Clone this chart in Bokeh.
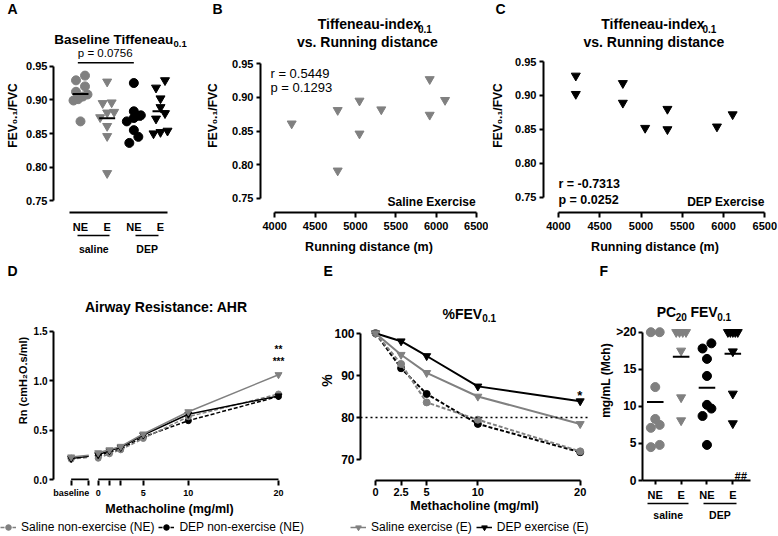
import math
from bokeh.plotting import figure
from bokeh.models import (Range1d, Label, FixedTicker, NumeralTickFormatter, LinearAxis,
                          Legend, LegendItem, Span)
from bokeh.layouts import row, column
from bokeh.embed import file_html
from bokeh.resources import INLINE

# ======================= data =======================
# Panel A - baseline Tiffeneau index (FEV0.1/FVC)
a_categories = ["NE", "E", "NE", "E"]
a_treatments = ["saline", "DEP"]
a_saline_ne = [0.936, 0.929, 0.920, 0.912, 0.908, 0.905, 0.901, 0.899, 0.868]
a_saline_e = [0.861, 0.881, 0.791, 0.895, 0.846, 0.882, 0.927, 0.874, 0.896]
a_dep_ne = [0.925, 0.883, 0.877, 0.873, 0.868, 0.855, 0.845, 0.836]
a_dep_e = [0.929, 0.902, 0.918, 0.889, 0.852, 0.880, 0.850, 0.854, 0.872]
a_y_ticks = [0.75, 0.80, 0.85, 0.90, 0.95]
a_compare = (1, 3)
a_p_text = "p = 0.0756"

# Panels B and C - Tiffeneau index vs running distance
b_distance = [4210, 4780, 4780, 5050, 5050, 5320, 5920, 5920, 6110]
b_tiff = [0.861, 0.881, 0.791, 0.895, 0.846, 0.882, 0.927, 0.874, 0.896]
b_stats = ["r = 0.5449", "p = 0.1293"]
c_distance = [4210, 4210, 4780, 4780, 5050, 5320, 5320, 5920, 6110]
c_tiff = [0.929, 0.902, 0.918, 0.889, 0.852, 0.880, 0.850, 0.854, 0.872]
c_stats = ["r = -0.7313", "p = 0.0252"]
dist_ticks = [4000, 4500, 5000, 5500, 6000, 6500]

# Panel D - airway resistance
d_baseline_pos = [-3, -1.05]
d_doses = [0, 1.25, 2.5, 5, 10, 20]
d_labelled = [0, 5, 10, 20]
d_y_ticks = [0, 0.5, 1.0, 1.5]
d_saline_ne_base = [0.205, 0.225]
d_dep_ne_base = [0.215, 0.232]
d_saline_e_base = [0.228, 0.245]
d_dep_e_base = [0.212, 0.235]
d_saline_ne = [0.215, 0.26, 0.30, 0.415, 0.635, 0.865]
d_dep_ne = [0.24, 0.275, 0.31, 0.43, 0.595, 0.84]
d_saline_e = [0.27, 0.30, 0.335, 0.46, 0.685, 1.06]
d_dep_e = [0.25, 0.29, 0.325, 0.45, 0.66, 0.845]
d_signif = ["**", "***"]

# Panel E - %FEV0.1
e_doses = [0, 2.5, 5, 10, 20]
e_y_ticks = [70, 80, 90, 100]
e_threshold = 80
e_saline_ne = [100, 92.7, 83.6, 79.5, 72.0]
e_dep_ne = [100, 91.7, 85.6, 78.5, 71.8]
e_saline_e = [100, 94.9, 90.6, 85.0, 78.5]
e_dep_e = [100, 98.1, 94.6, 87.4, 83.9]
e_signif = "*"

# Panel F - PC20 FEV0.1
f_y_ticks = [0, 5, 10, 15, 20]
f_top_label = ">20"
f_saline_ne = [20, 20, 12.6, 8.3, 7.1, 7.5, 4.5, 4.8]
f_saline_e = [20, 20, 20, 20, 17.5, 11.2, 8.1]
f_dep_ne = [18.5, 17.8, 16.4, 14.1, 10.2, 9.7, 8.7, 4.8]
f_dep_e = [20, 20, 20, 20, 20, 17.4, 11.7, 7.7]
f_signif = "##"

series_names = ["Saline non-exercise (NE)", "DEP non-exercise (NE)",
                "Saline exercise (E)", "DEP exercise (E)"]

# ======================= styles =======================
FONT = "Liberation Sans"
GRAY = "#808080"
BLACK = "#000000"
# style per series, in the order of series_names
S_COLORS = [GRAY, BLACK, GRAY, BLACK]
S_DASH = ["4 2", "4 2", "solid", "solid"]
S_MARK = ["circle", "circle", "inverted_triangle", "inverted_triangle"]
# column order of panels A and F (saline NE, saline E, DEP NE, DEP E) -> series index
COL_SERIES = [0, 2, 1, 3]
NAN = float("nan")

BOLD_W = {c: 556 for c in "0123456789#$"}
BOLD_W.update({" ": 278, ".": 278, ",": 278, "-": 333, "/": 278, "(": 333, ")": 333,
               ":": 333, "%": 889, "=": 584, ">": 584, "*": 389})
BOLD_W.update(dict(zip("ABCDEFGHIJKLMNOPQRSTUVWXYZ",
                       [722, 722, 722, 722, 667, 611, 778, 722, 278, 556, 722, 611, 833,
                        722, 778, 667, 778, 722, 667, 611, 722, 667, 944, 667, 667, 611])))
BOLD_W.update(dict(zip("abcdefghijklmnopqrstuvwxyz",
                       [556, 611, 556, 611, 556, 333, 611, 611, 278, 278, 556, 278, 889,
                        611, 611, 611, 611, 389, 556, 333, 611, 556, 778, 556, 556, 500])))


def tw(s, size):
    return sum(BOLD_W.get(ch, 556) for ch in s) / 1000.0 * size


class Panel:
    """Figure whose plot frame sits at given page pixels; xcal/ycal map values to pixels."""

    def __init__(self, box, frame, xcal, ycal, letter, letter_x):
        bx, by, bw, bh = box
        fl, ft, fr, fb = frame
        self.kx = (xcal[3] - xcal[1]) / (xcal[2] - xcal[0])
        self.xv0, self.xp0 = xcal[0], xcal[1]
        self.ky = (ycal[3] - ycal[1]) / (ycal[2] - ycal[0])
        self.yv0, self.yp0 = ycal[0], ycal[1]
        p = figure(width=bw, height=bh, title=letter,
                   x_range=Range1d(self.xv(fl), self.xv(fr)),
                   y_range=Range1d(self.yv(fb), self.yv(ft)),
                   output_backend="svg", toolbar_location=None,
                   min_border_left=int(round(fl - bx)), min_border_right=int(round(bx + bw - fr)),
                   min_border_top=int(round(ft - by)), min_border_bottom=int(round(by + bh - fb)))
        p.outline_line_color = None
        p.grid.visible = False
        p.background_fill_color = "white"
        p.border_fill_color = "white"
        t = p.title
        t.align = "left"
        t.offset = letter_x - fl
        t.standoff = 0
        t.vertical_align = "top"
        t.text_font = FONT
        t.text_font_size = "14px"
        t.text_font_style = "bold"
        t.text_color = BLACK
        self.p = p

    def xv(self, px):
        return self.xv0 + (px - self.xp0) / self.kx

    def yv(self, py):
        return self.yv0 + (py - self.yp0) / self.ky


def text(P, px, py, s, size, bold=True, align="center", baseline="middle", angle=0.0,
         italic=False, color=BLACK):
    style = ("bold " if bold else "") + ("italic" if italic else "")
    style = style.strip() or "normal"
    P.p.add_layout(Label(x=P.xv(px), y=P.yv(py), text=s, text_font=FONT,
                         text_font_size=f"{size}px", text_font_style=style,
                         text_align=align, text_baseline=baseline, angle=angle,
                         text_color=color))


def rich(P, cx, cy, parts):
    """Centred text made of pieces (text, size, drop) - used for subscripts."""
    total = sum(tw(t, s) for t, s, d in parts)
    adv = 0.0
    for t, s, d in parts:
        stripped = t.lstrip(" ")
        adv += tw(t[:len(t) - len(stripped)], s)
        text(P, cx - total / 2 + adv, cy + d, stripped, s, align="left", baseline="middle")
        adv += tw(stripped, s)


def axstyle(ax, size, tick_out=4, standoff=3):
    ax.axis_line_color = BLACK
    ax.axis_line_width = 2
    ax.major_tick_line_color = BLACK
    ax.major_tick_line_width = 2
    ax.major_tick_out = tick_out
    ax.major_tick_in = 0
    ax.minor_tick_line_color = None
    ax.minor_tick_out = 0
    ax.minor_tick_in = 0
    ax.major_label_text_font = FONT
    ax.major_label_text_font_style = "bold"
    ax.major_label_text_font_size = f"{size}px"
    ax.major_label_text_color = BLACK
    ax.major_label_standoff = standoff


def axlabel(ax, s, size, standoff):
    ax.axis_label = s
    ax.axis_label_text_font = FONT
    ax.axis_label_text_font_size = f"{size}px"
    ax.axis_label_text_font_style = "bold"
    ax.axis_label_text_color = BLACK
    ax.axis_label_standoff = standoff


def group_axes(P, positions, names, size, pad, standoff):
    centers = [(positions[2 * g] + positions[2 * g + 1]) / 2 for g in range(len(names))]
    for c, name in zip(centers, names):
        half = (tw(name, size) + pad) / 2 / P.kx
        ax = LinearAxis(bounds=(c - half, c + half), ticker=FixedTicker(ticks=[]))
        axstyle(ax, size, 0, 0)
        ax.axis_line_width = 1.5
        ax.major_tick_line_color = None
        ax.axis_label_standoff = 0
        P.p.add_layout(ax, "below")
    ax = LinearAxis(ticker=FixedTicker(ticks=centers),
                    major_label_overrides=dict(zip(centers, names)))
    axstyle(ax, size, 0, standoff)
    ax.axis_line_color = None
    ax.major_tick_line_color = None
    P.p.add_layout(ax, "below")


def row_offsets(vals, kx, ky, size, maxw):
    order = sorted(range(len(vals)), key=lambda i: vals[i])
    offs = [0.0] * len(vals)
    rows = []
    for i in order:
        y = vals[i] * ky
        if rows and y - rows[-1][0] < 0.9 * size:
            rows[-1][1].append(i)
        else:
            rows.append([y, [i]])
    for _, idx in rows:
        k = len(idx)
        if k > 1:
            sp = min(size, maxw / (k - 1))
            for j, i in enumerate(idx):
                offs[i] = (j - (k - 1) / 2) * sp / kx
    return offs


def fmt(v):
    return f"{v:g}"


FEV_LABEL = "FEV\u2080.\u2081/FVC"

# ======================= Panel A =======================
A = Panel((0, 0, 203, 262), (53, 18, 203, 212), (1, 80, 4, 160), (0.95, 65.7, 0.75, 200.3),
          "A", 7)
pa = A.p
positions = list(range(1, len(a_categories) + 1))
pa.yaxis.ticker = FixedTicker(ticks=a_y_ticks)
pa.yaxis.formatter = NumeralTickFormatter(format="0.00")
pa.yaxis.bounds = (a_y_ticks[0], a_y_ticks[-1])
axstyle(pa.yaxis, 11, 4, 2)
axlabel(pa.yaxis, FEV_LABEL, 12, 3)
pa.xaxis.ticker = FixedTicker(ticks=positions)
pa.xaxis.major_label_overrides = dict(zip(positions, a_categories))
axstyle(pa.xaxis, 11, 0, 8)
pa.xaxis.major_tick_line_color = None
pa.xaxis.bounds = (A.xv(69), A.xv(167))
group_axes(A, positions, a_treatments, 10.5, 2, 7)

a_groups = [a_saline_ne, a_saline_e, a_dep_ne, a_dep_e]
for i, vals in enumerate(a_groups):
    pos = positions[i]
    s = COL_SERIES[i]
    size = 9
    offs = row_offsets(vals, A.kx, abs(A.ky), size, 14)
    pa.scatter(x=[pos + o for o in offs], y=vals, marker=S_MARK[s], size=size,
               fill_color=S_COLORS[s], line_color=S_COLORS[s])
    m = sum(vals) / len(vals)
    pa.segment(x0=[pos - 0.3], x1=[pos + 0.3], y0=[m], y1=[m], line_width=2, line_color=BLACK)

ybr = A.yv(62.3)
pa.segment(x0=[a_compare[0] - 0.1], x1=[a_compare[1]], y0=[ybr], y1=[ybr],
           line_width=1.5, line_color=BLACK)
text(A, 104.7, 52, a_p_text, 11.5, bold=False)
rich(A, 120, 39, [("Baseline Tiffeneau", 13.5, 0), ("0.1", 9.5, 4.5)])

# ======================= Panel B =======================
B = Panel((203, 0, 285, 262), (253, 18, 477, 212), (4000, 267.7, 6500, 476.0),
          (0.95, 63.3, 0.75, 197.7), "B", 205)
pb = B.p
pb.yaxis.ticker = FixedTicker(ticks=a_y_ticks)
pb.yaxis.formatter = NumeralTickFormatter(format="0.00")
pb.yaxis.bounds = (a_y_ticks[0], a_y_ticks[-1])
axstyle(pb.yaxis, 11, 4, 3)
axlabel(pb.yaxis, FEV_LABEL, 12, 9)
pb.xaxis.ticker = FixedTicker(ticks=dist_ticks)
pb.xaxis.bounds = (dist_ticks[0], dist_ticks[-1])
axstyle(pb.xaxis, 11, 5, 4)
axlabel(pb.xaxis, "Running distance (m)", 12.5, 7)
pb.scatter(x=b_distance, y=b_tiff, marker="inverted_triangle", size=9,
           fill_color=GRAY, line_color=GRAY)
rich(B, 370.8, 23.5, [("Tiffeneau-index", 14, 0), ("0.1", 10, 4.5)])
text(B, 363.3, 41.5, "vs. Running distance", 14)
text(B, 263.3, 73.3, b_stats[0], 13, bold=False, align="left")
text(B, 263.3, 87.3, b_stats[1], 13, bold=False, align="left")
text(B, 475, 201.7, "Saline Exercise", 12, align="right")

# ======================= Panel C =======================
C = Panel((488, 0, 290, 262), (538, 18, 766, 212), (4000, 553.3, 6500, 764.3),
          (0.95, 61.0, 0.75, 196.7), "C", 490)
pc = C.p
pc.yaxis.ticker = FixedTicker(ticks=a_y_ticks)
pc.yaxis.formatter = NumeralTickFormatter(format="0.00")
pc.yaxis.bounds = (a_y_ticks[0], a_y_ticks[-1])
axstyle(pc.yaxis, 11, 4, 3)
axlabel(pc.yaxis, FEV_LABEL, 12, 7)
pc.xaxis.ticker = FixedTicker(ticks=dist_ticks)
pc.xaxis.bounds = (dist_ticks[0], dist_ticks[-1])
axstyle(pc.xaxis, 11, 5, 4)
axlabel(pc.xaxis, "Running distance (m)", 12.5, 7)
pc.scatter(x=c_distance, y=c_tiff, marker="inverted_triangle", size=9,
           fill_color=BLACK, line_color=BLACK)
rich(C, 655.8, 23.5, [("Tiffeneau-index", 14, 0), ("0.1", 10, 4.5)])
text(C, 650.8, 41.5, "vs. Running distance", 14)
text(C, 553.3, 183.3, c_stats[0], 12.5, align="left")
text(C, 553.3, 199, c_stats[1], 12.5, align="left")
text(C, 764, 201, "DEP Exercise", 12, align="right")

# ======================= Panel D =======================
D = Panel((0, 262, 300, 256), (53, 280, 285, 480), (0, 97.7, 20, 278.0), (1.5, 330.7, 0, 479),
          "D", 7)
pd_ = D.p
pd_.yaxis.ticker = FixedTicker(ticks=d_y_ticks)
pd_.yaxis.formatter = NumeralTickFormatter(format="0.0")
pd_.yaxis.bounds = (d_y_ticks[0], d_y_ticks[-1])
axstyle(pd_.yaxis, 10, 4, 2)
axlabel(pd_.yaxis, "Rn (cmH\u2082O.s/ml)", 11, 2)
d_ticks = d_baseline_pos + d_doses
d_over = {d_baseline_pos[0]: "baseline", d_baseline_pos[1]: ""}
d_over.update({v: (fmt(v) if v in d_labelled else "") for v in d_doses})
pd_.xaxis.ticker = FixedTicker(ticks=d_ticks)
pd_.xaxis.major_label_overrides = d_over
axstyle(pd_.xaxis, 9, 5, 2)
axlabel(pd_.xaxis, "Methacholine (mg/ml)", 12.5, 1)
pd_.xaxis.axis_line_color = None
# broken x-axis line: baseline segment and dose segment
pd_.segment(x0=[d_baseline_pos[0], d_doses[0]], x1=[d_baseline_pos[1], d_doses[-1]],
            y0=[d_y_ticks[0]] * 2, y1=[d_y_ticks[0]] * 2, line_width=2, line_color=BLACK)

d_base = [d_saline_ne_base, d_dep_ne_base, d_saline_e_base, d_dep_e_base]
d_vals = [d_saline_ne, d_dep_ne, d_saline_e, d_dep_e]
for i in [1, 0, 3, 2]:
    col, dash, mk = S_COLORS[i], S_DASH[i], S_MARK[i]
    msize = 6 if mk == "circle" else 7
    pd_.line(x=d_baseline_pos, y=d_base[i], line_color=col, line_dash=dash, line_width=1.5)
    pd_.scatter(x=d_baseline_pos[:1], y=d_base[i][:1], marker=mk, size=msize,
                fill_color=col, line_color=col)
    pd_.line(x=d_doses, y=d_vals[i], line_color=col, line_dash=dash, line_width=1.5)
    pd_.scatter(x=d_doses, y=d_vals[i], marker=mk, size=msize, fill_color=col, line_color=col)
text(D, 278, 349, d_signif[0], 10)
text(D, 278, 360.7, d_signif[1], 10)
text(D, 165.8, 306.7, "Airway Resistance: AHR", 14)

# ======================= Panel E =======================
E = Panel((300, 262, 296, 256), (360, 280, 588, 480), (0, 375, 20, 579.7),
          (100, 332.7, 70, 459.3), "E", 323)
pe = E.p
pe.yaxis.ticker = FixedTicker(ticks=e_y_ticks)
pe.yaxis.bounds = (e_y_ticks[0], e_y_ticks[-1])
axstyle(pe.yaxis, 12, 4, 2)
axlabel(pe.yaxis, "%", 14, -4)
pe.xaxis.ticker = FixedTicker(ticks=e_doses)
pe.xaxis.major_label_overrides = {v: fmt(v) for v in e_doses}
pe.xaxis.bounds = (e_doses[0], e_doses[-1])
axstyle(pe.xaxis, 11, 5, 2)
axlabel(pe.xaxis, "Methacholine (mg/ml)", 12.5, 0)
pe.add_layout(Span(location=e_threshold, dimension="width", line_color=BLACK,
                   line_dash="2 3", line_width=1.5))
e_vals = [e_saline_ne, e_dep_ne, e_saline_e, e_dep_e]
for i in [1, 0, 3, 2]:
    col, dash, mk = S_COLORS[i], S_DASH[i], S_MARK[i]
    msize = 7 if mk == "circle" else 8
    pe.line(x=e_doses, y=e_vals[i], line_color=col, line_dash=dash, line_width=2)
    pe.scatter(x=e_doses, y=e_vals[i], marker=mk, size=msize, fill_color=col, line_color=col)
text(E, 579.3, 395, e_signif, 13)
rich(E, 468.8, 313.3, [("%FEV", 14, 0), ("0.1", 10, 4.5)])

# ======================= Panel F =======================
F = Panel((596, 262, 182, 274), (640, 280, 750, 480), (1, 653, 4, 732), (20, 331.7, 0, 480),
          "F", 597)
pf = F.p
pf.yaxis.ticker = FixedTicker(ticks=f_y_ticks)
pf.yaxis.major_label_overrides = {f_y_ticks[-1]: f_top_label}
pf.yaxis.bounds = (f_y_ticks[0], f_y_ticks[-1])
axstyle(pf.yaxis, 12, 4, 2)
axlabel(pf.yaxis, "mg/mL (Mch)", 12, 0)
pf.xaxis.ticker = FixedTicker(ticks=positions)
pf.xaxis.major_label_overrides = dict(zip(positions, a_categories))
axstyle(pf.xaxis, 11, 4, 4)
group_axes(F, positions, a_treatments, 10.5, 12, 5)
f_groups = [f_saline_ne, f_saline_e, f_dep_ne, f_dep_e]
for i, vals in enumerate(f_groups):
    pos = positions[i]
    s = COL_SERIES[i]
    size = 9
    offs = row_offsets(vals, F.kx, abs(F.ky), size, 10)
    pf.scatter(x=[pos + o for o in offs], y=vals, marker=S_MARK[s], size=size,
               fill_color=S_COLORS[s], line_color=S_COLORS[s])
    m = sum(vals) / len(vals)
    pf.segment(x0=[pos - 0.32], x1=[pos + 0.32], y0=[m], y1=[m], line_width=2, line_color=BLACK)
text(F, 740, 475, f_signif, 11, italic=True)
rich(F, 692.2, 311.7, [("PC", 14, 0), ("20", 10, 4.5), (" FEV", 14, 0), ("0.1", 10, 4.5)])

# ======================= Legend strip =======================
L = figure(width=596, height=18, x_range=Range1d(0, 1), y_range=Range1d(0, 1),
           x_axis_type=None, y_axis_type=None, output_backend="svg", toolbar_location=None,
           min_border_left=0, min_border_right=0, min_border_top=0, min_border_bottom=0)
L.outline_line_color = None
items = []
for i, name in enumerate(series_names):
    col, dash, mk = S_COLORS[i], S_DASH[i], S_MARK[i]
    rl = L.line(x=[NAN, NAN], y=[NAN, NAN], line_color=col, line_dash=dash, line_width=1.5)
    rs = L.scatter(x=[NAN], y=[NAN], marker=mk, size=7 if mk == "circle" else 8,
                   fill_color=col, line_color=col)
    items.append(LegendItem(label=name, renderers=[rl, rs]))
for its, loc in [(items[:2], (0, 2)), (items[2:], (350, 2))]:
    leg = Legend(items=its, location=loc, orientation="horizontal",
                 background_fill_alpha=0, border_line_color=None,
                 label_text_font=FONT, label_text_font_size="12px", label_text_color=BLACK,
                 glyph_width=16, glyph_height=14, label_height=14, label_standoff=5,
                 spacing=4, padding=0, margin=0)
    L.add_layout(leg)

layout = column(row(A.p, B.p, C.p), row(column(row(D.p, E.p), L), F.p))
open("out.html", "w").write(file_html(layout, INLINE, title="Tiffeneau and AHR"))
